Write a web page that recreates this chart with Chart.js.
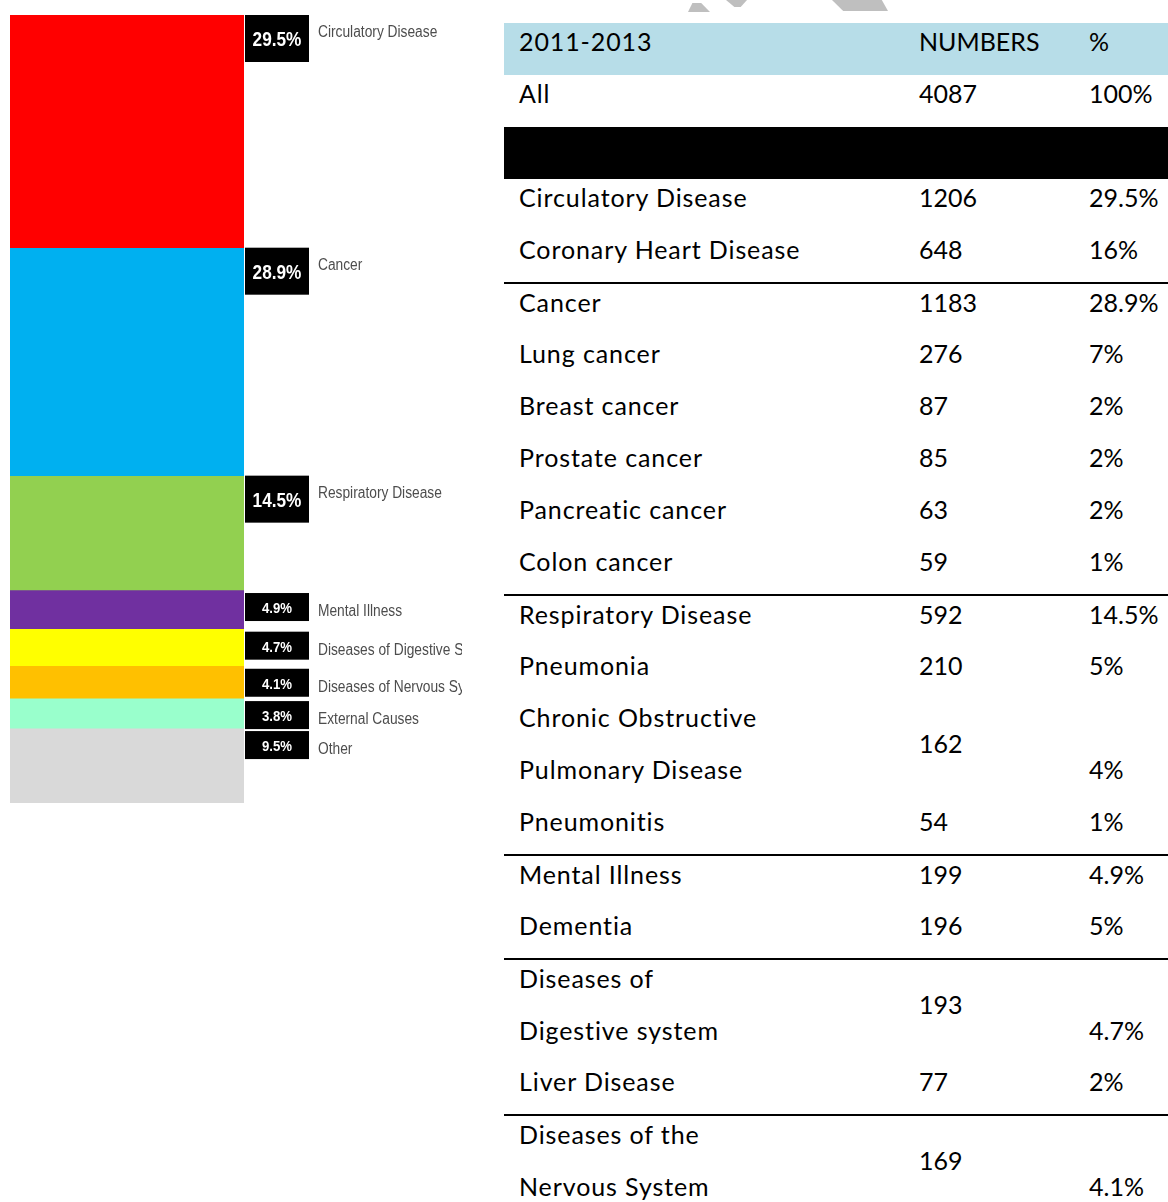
<!DOCTYPE html>
<html>
<head>
<meta charset="utf-8">
<script src="https://cdn.jsdelivr.net/npm/chart.js@4.4.0/dist/chart.umd.min.js"></script>
<style>
    body { margin: 0; background: #fff; width: 1168px; height: 1202px; overflow: hidden; position: relative; }
    #chartBox { position: absolute; left: 0; top: 0; width: 480px; height: 830px; }
    #table { position: absolute; left: 504px; top: 23px; width: 664px; font-family: Lato, 'Open Sans', sans-serif; font-size: 25px; color: #000; }
    .row { position: absolute; left: 0; width: 664px; }
    .row.group { border-top: 2px solid #000; margin-top: -1px; }
    .cell { position: absolute; line-height: 37px; white-space: nowrap; }
    .cell.name { letter-spacing: 0.9px; }
    .mark { position: absolute; background: #bfbfbf; }
</style>
</head>
<body>
<div class="mark" style="left:688px;top:3px;width:22px;height:9px;clip-path:polygon(20% 0,60% 0,100% 100%,0 100%)"></div>
<div class="mark" style="left:726px;top:0;width:21px;height:7px;clip-path:polygon(0 0,100% 0,70% 100%,40% 100%)"></div>
<div class="mark" style="left:832px;top:0;width:56px;height:11px;clip-path:polygon(0 0,89% 0,100% 100%,20% 100%)"></div>

<div id="chartBox"><canvas id="causesChart"></canvas></div>
<div id="table"></div>

<script>
// Stacked bar - share of deaths by cause
const causeLabels = ['Circulatory Disease', 'Cancer', 'Respiratory Disease', 'Mental Illness',
    'Diseases of Digestive System', 'Diseases of Nervous System', 'External Causes', 'Other'];
const causeShares = [29.5, 28.9, 14.5, 4.9, 4.7, 4.1, 3.8, 9.5];
const causeColors = ['#ff0000', '#00b0f0', '#92d050', '#7030a0', '#ffff00', '#ffc000', '#99ffcc', '#d9d9d9'];

// Table rows (2011-2013)
const rowLabels = ['2011-2013', 'All', '', 'Circulatory Disease', 'Coronary Heart Disease',
    'Cancer', 'Lung cancer', 'Breast cancer', 'Prostate cancer', 'Pancreatic cancer', 'Colon cancer',
    'Respiratory Disease', 'Pneumonia', 'Chronic Obstructive\nPulmonary Disease', 'Pneumonitis',
    'Mental Illness', 'Dementia', 'Diseases of\nDigestive system', 'Liver Disease',
    'Diseases of the\nNervous System'];
const rowNumbers = ['NUMBERS', '4087', '', '1206', '648', '1183', '276', '87', '85', '63', '59',
    '592', '210', '162', '54', '199', '196', '193', '77', '169'];
const rowPercents = ['%', '100%', '', '29.5%', '16%', '28.9%', '7%', '2%', '2%', '2%', '1%',
    '14.5%', '5%', '4%', '1%', '4.9%', '5%', '4.7%', '2%', '4.1%'];
const groupStarts = ['Cancer', 'Respiratory Disease', 'Mental Illness', 'Diseases of\nDigestive system',
    'Diseases of the\nNervous System'];

// Text squeezed horizontally, the labels in the picture use a condensed face
function drawSqueezed(ctx, text, x, y, sx) {
    ctx.save();
    ctx.translate(x, y);
    ctx.scale(sx, 1);
    ctx.fillText(text, 0, 0);
    ctx.restore();
}

// Draw the black % boxes and labels next to each segment
const segmentLabels = {
    id: 'segmentLabels',
    afterDatasetsDraw(chart) {
        const ctx = chart.ctx;
        const y = chart.scales.y;
        const x0 = chart.chartArea.right + 1;
        let start = 0;
        ctx.save();
        ctx.beginPath();
        ctx.rect(0, 0, 462, chart.height);
        ctx.clip();
        ctx.textBaseline = 'middle';
        causeShares.forEach((share, i) => {
            const top = y.getPixelForValue(start);
            const big = share > 10;
            const boxTop = big ? top : top + 3;
            const boxH = big ? 47 : 28;
            ctx.fillStyle = '#000';
            ctx.fillRect(x0, boxTop, 64, boxH);
            ctx.fillStyle = '#fff';
            ctx.textAlign = 'center';
            ctx.font = big ? "bold 21px 'Liberation Sans', Arial, sans-serif"
                           : "bold 15px 'Liberation Sans', Arial, sans-serif";
            drawSqueezed(ctx, share.toFixed(1) + '%', x0 + 32, boxTop + boxH / 2 + 2, big ? 0.82 : 0.88);
            ctx.fillStyle = '#4d4d4d';
            ctx.textAlign = 'left';
            ctx.font = "16px 'Liberation Sans', Arial, sans-serif";
            drawSqueezed(ctx, causeLabels[i], 318, boxTop + (big ? 18 : 19), 0.86);
            start += share;
        });
        ctx.restore();
    }
};

function initializeCausesChart() {
    const ctx = document.getElementById('causesChart').getContext('2d');
    const total = causeShares.reduce((a, b) => a + b, 0);

    new Chart(ctx, {
        type: 'bar',
        data: {
            labels: ['2011-2013'],
            datasets: causeShares.map((share, i) => ({
                label: causeLabels[i],
                data: [share],
                backgroundColor: causeColors[i],
                borderWidth: 0,
                barPercentage: 1,
                categoryPercentage: 1
            }))
        },
        options: {
            responsive: true,
            maintainAspectRatio: false,
            animation: false,
            layout: { padding: { left: 10, right: 236, top: 15, bottom: 27 } },
            plugins: {
                legend: { display: false },
                tooltip: { enabled: false }
            },
            scales: {
                x: { stacked: true, display: false },
                y: { stacked: true, display: false, reverse: true, min: 0, max: total }
            }
        },
        plugins: [segmentLabels]
    });
}

// Build the table from the row arrays
function initializeTable() {
    const container = document.getElementById('table');
    let top = 0;
    rowLabels.forEach((label, i) => {
        const lines = label.split('\n');
        const twoLine = lines.length > 1;
        const h = twoLine ? 104 : 52;
        const row = document.createElement('div');
        row.className = 'row' + (groupStarts.includes(label) ? ' group' : '');
        row.style.top = top + 'px';
        row.style.height = h + 'px';
        if (i === 0) row.style.background = '#b7dde8';
        if (i === 2) row.style.background = '#000';

        lines.forEach((line, k) => {
            const c = document.createElement('div');
            c.className = 'cell name';
            c.style.left = '15px';
            c.style.top = (k * 52) + 'px';
            c.textContent = line;
            row.appendChild(c);
        });
        const n = document.createElement('div');
        n.className = 'cell';
        n.style.left = '415px';
        n.style.top = (twoLine ? 26 : 0) + 'px';
        n.textContent = rowNumbers[i];
        row.appendChild(n);
        const p = document.createElement('div');
        p.className = 'cell';
        p.style.left = '585px';
        p.style.top = (twoLine ? 52 : 0) + 'px';
        p.textContent = rowPercents[i];
        row.appendChild(p);

        container.appendChild(row);
        top += h;
    });
}

initializeCausesChart();
initializeTable();
</script>
</body>
</html>
